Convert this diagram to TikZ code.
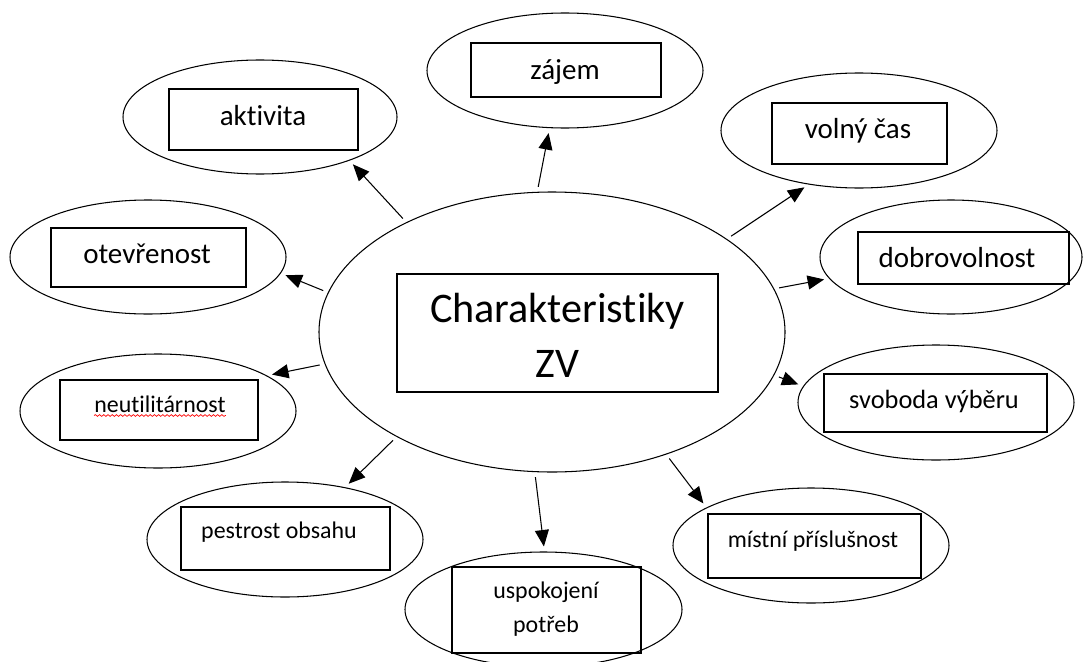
\documentclass[tikz,border=0pt]{standalone}
\usepackage{fontspec}
\setmainfont{Carlito}[Ligatures=NoCommon]
\usetikzlibrary{shapes.geometric,arrows.meta,decorations.pathmorphing}

\begin{document}
\begin{tikzpicture}[
		oval/.style={draw, ellipse, inner sep=0pt, line width=0.6pt},
		box/.style={draw, rectangle, inner sep=0pt, line width=0.8pt},
		lbl/.style={inner sep=0pt, anchor=base, font=\fontsize{16.5}{20}\selectfont},
		lblsmall/.style={lbl, font=\fontsize{13.6}{18.8}\selectfont},
		link/.style={line width=0.6pt, -{Triangle[length=0.33cm,width=0.28cm]}, shorten >=0.1cm, shorten <=0.1cm}
	]
			%\draw[help lines] (0, -14) grid (22, 0);
			\useasboundingbox (0,0) rectangle (21.68,-13.22);

			\node[oval, minimum width=9.32cm, minimum height=5.6cm] (zv) at (11.04,-6.64) {};
			\node[box, minimum width=6.42cm, minimum height=2.36cm] (zvbox) at (11.15,-6.66) {};
			\node[align=center, inner sep=0pt, font=\fontsize{24}{31.3}\selectfont] (zvtext) at (11.15,-6.70) {Charakteristiky\\ZV};

			\node[oval, minimum width=5.48cm, minimum height=2.28cm] (aktivita) at (5.20,-2.34) {};
			\node[box, minimum width=3.78cm, minimum height=1.22cm] (aktivitabox) at (5.27,-2.39) {};
			\node[lbl] (aktivitatext) at (5.26,-2.50) {aktivita};

			\node[oval, minimum width=5.52cm, minimum height=2.28cm] (otevrenost) at (2.96,-5.14) {};
			\node[box, minimum width=3.90cm, minimum height=1.18cm] (otevrenostbox) at (2.97,-5.15) {};
			\node[lbl] (otevrenosttext) at (2.94,-5.26) {otevřenost};

			\node[oval, minimum width=5.52cm, minimum height=2.30cm] (zajem) at (11.30,-1.41) {};
			\node[box, minimum width=3.80cm, minimum height=1.08cm] (zajembox) at (11.32,-1.40) {};
			\node[lbl] (zajemtext) at (11.30,-1.58) {zájem};

			\node[oval, minimum width=5.52cm, minimum height=2.30cm] (volnycas) at (17.18,-2.61) {};
			\node[box, minimum width=3.50cm, minimum height=1.22cm] (volnycasbox) at (17.19,-2.67) {};
			\node[lbl] (volnycastext) at (17.16,-2.76) {volný čas};

			\node[oval, minimum width=5.24cm, minimum height=2.28cm] (dobrovolnost) at (19.02,-5.14) {};
			\node[box, minimum width=4.22cm, minimum height=1.04cm] (dobrovolnostbox) at (19.27,-5.16) {};
			\node[lbl] (dobrovolnosttext) at (19.14,-5.34) {dobrovolnost};

			\node[oval, minimum width=5.52cm, minimum height=2.30cm] (svoboda) at (18.72,-8.05) {};
			\node[box, minimum width=4.46cm, minimum height=1.16cm] (svobodabox) at (18.71,-8.06) {};
			\node[lbl, font=\fontsize{15}{18}\selectfont] (svobodatext) at (18.68,-8.16) {svoboda výběru};

			\node[oval, minimum width=5.52cm, minimum height=2.30cm] (mistni) at (16.22,-10.91) {};
			\node[box, minimum width=4.26cm, minimum height=1.28cm] (mistnibox) at (16.29,-10.92) {};
			\node[lblsmall] (mistnitext) at (16.26,-10.94) {místní příslušnost};

			\node[oval, minimum width=5.54cm, minimum height=2.30cm] (uspokojeni) at (10.87,-12.19) {};
			\node[box, minimum width=3.78cm, minimum height=1.72cm] (uspokojenibox) at (10.93,-12.20) {};
			\node[lblsmall, align=center] (uspokojenitext) at (10.92,-12.64) {uspokojení\\potřeb};

			\node[oval, minimum width=5.52cm, minimum height=2.30cm] (pestrost) at (5.70,-10.79) {};
			\node[box, minimum width=4.18cm, minimum height=1.26cm] (pestrostbox) at (5.71,-10.77) {};
			\node[lblsmall] (pestrosttext) at (5.58,-10.76) {pestrost obsahu};

			\node[oval, minimum width=5.52cm, minimum height=2.28cm] (neutilitarnost) at (3.16,-8.22) {};
			\node[box, minimum width=3.96cm, minimum height=1.20cm] (neutilitarnostbox) at (3.18,-8.20) {};
			\node[lblsmall] (neutilitarnosttext) at (3.20,-8.24) {neutilitárnost};
			\draw[red, line width=0.4pt, decorate, decoration={snake, amplitude=0.5pt, segment length=2.4pt}] ([yshift=-0.07cm]neutilitarnosttext.base west) -- ([yshift=-0.07cm]neutilitarnosttext.base east);

			\draw[link] (zv.143) -- (aktivita.-26);
			\draw[link] (zv.170) -- (otevrenost.-7);
			\draw[link] (zv.96) -- (zajem.-105);
			\draw[link] (zv.28) -- (volnycas.-133);
			\draw[link] (zv.11) -- (dobrovolnost.190);
			\draw[link] (zv.-11) -- (svoboda.173);
			\draw[link] (zv.-47) -- (mistni.160);
			\draw[link] (zv.-97) -- (uspokojeni.89);
			\draw[link] (zv.-146) -- (pestrost.41);
			\draw[link] (zv.-172) -- (neutilitarnost.18);
		\end{tikzpicture}
\end{document}
